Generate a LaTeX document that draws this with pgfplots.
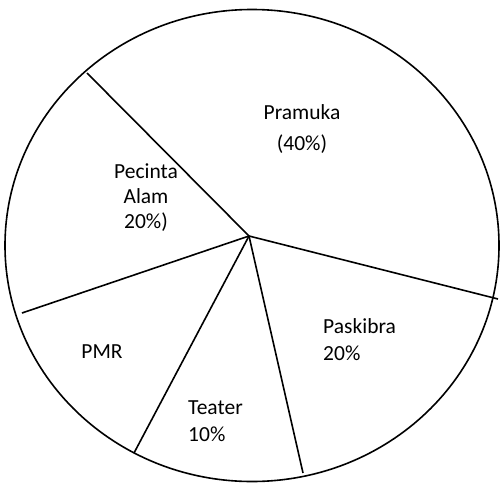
\documentclass[border=0pt]{standalone}
\usepackage{pgfplots}
\pgfplotsset{compat=1.18}
\usepackage{fontspec}
\setmainfont{Carlito}
\begin{document}
\begin{tikzpicture}
\begin{axis}[
  width=502pt, height=483pt, scale only axis,
  xmin=0, xmax=502, ymin=0, ymax=483,
  hide axis, clip=false,
]
\path (axis cs:0,0) rectangle (axis cs:502,483);
\draw[black, line width=1.6pt] (axis cs:252,237.5) ellipse [x radius=247, y radius=236];
\addplot[black, line width=1.6pt] coordinates {(249,247) (87,410)};
\addplot[black, line width=1.6pt] coordinates {(249,247) (498,184)};
\addplot[black, line width=1.6pt] coordinates {(249,247) (303,10)};
\addplot[black, line width=1.6pt] coordinates {(249,247) (134,30)};
\addplot[black, line width=1.6pt] coordinates {(249,247) (22,170)};
\node[align=center, font=\fontsize{21.5}{31}\selectfont] at (axis cs:302,353.5) {Pramuka\\(40\%)};
\node[align=center, font=\fontsize{21.5}{25}\selectfont] at (axis cs:146,285.5) {Pecinta\\Alam\\20\%)};
\node[align=left, anchor=west, inner sep=0pt, font=\fontsize{21.5}{27}\selectfont] at (axis cs:323,143.5) {Paskibra\\20\%};
\node[font=\fontsize{21.5}{26}\selectfont] at (axis cs:102,131) {PMR};
\node[align=left, anchor=west, inner sep=0pt, font=\fontsize{21.5}{27}\selectfont] at (axis cs:188,61.5) {Teater\\10\%};
\end{axis}
\end{tikzpicture}
\end{document}
